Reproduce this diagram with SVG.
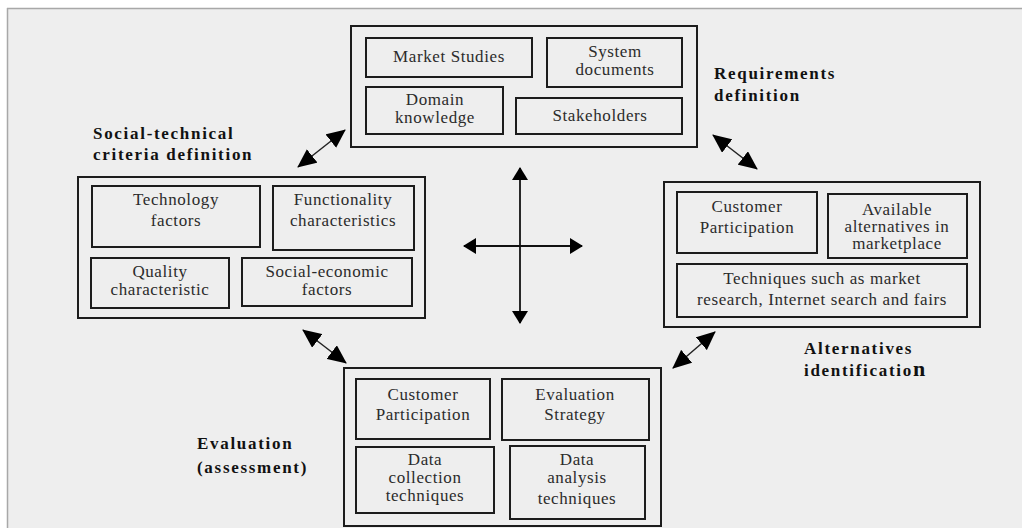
<svg xmlns="http://www.w3.org/2000/svg" width="1022" height="528" viewBox="0 0 1022 528">
  <style>
    .frame { fill: none; stroke: #1c1c1c; stroke-width: 2; }
    .box { fill: none; stroke: #1c1c1c; stroke-width: 2; }
    .t { font-family: "Liberation Serif", "Times New Roman", serif; font-size: 17px; fill: #2b2b2b; text-anchor: middle; letter-spacing: 0.6px; }
    .lbl { font-family: "Liberation Serif", "Times New Roman", serif; font-size: 17px; font-weight: bold; fill: #111; letter-spacing: 1.7px; }
    .link { stroke: #222; stroke-width: 1.5; fill: none; }
    .axis { stroke: #111; stroke-width: 1.8; fill: none; }
  </style>
  <defs>
    <marker id="headBig" viewBox="0 0 19 17" refX="18" refY="8.5" markerWidth="19" markerHeight="17" markerUnits="userSpaceOnUse" orient="auto-start-reverse">
      <path d="M0,0 L19,8.5 L0,17 z" fill="#000"/>
    </marker>
    <marker id="headSmall" viewBox="0 0 13 16" refX="12" refY="8" markerWidth="13" markerHeight="16" markerUnits="userSpaceOnUse" orient="auto-start-reverse">
      <path d="M0,0 L13,8 L0,16 z" fill="#000"/>
    </marker>
  </defs>

  <!-- page backdrop -->
  <rect x="0" y="0" width="1022" height="528" fill="#ffffff"/>
  <rect x="7" y="8" width="1015" height="520" fill="#eeeeee"/>
  <path d="M7,8.5 H1022 M7.5,8 V528" stroke="#a8a8a8" stroke-width="1.5" fill="none"/>

  <!-- Requirements definition -->
  <g id="requirements">
    <rect class="frame" x="351" y="26" width="346" height="121"/>
    <g id="req-market">
      <rect class="box" x="366" y="38" width="166" height="39"/>
      <text class="t" x="449" y="62">Market Studies</text>
    </g>
    <g id="req-system">
      <rect class="box" x="547" y="38" width="135" height="49"/>
      <text class="t" x="615" y="57">System</text>
      <text class="t" x="615" y="75">documents</text>
    </g>
    <g id="req-domain">
      <rect class="box" x="366" y="87" width="137" height="47"/>
      <text class="t" x="435" y="105">Domain</text>
      <text class="t" x="435" y="123">knowledge</text>
    </g>
    <g id="req-stakeholders">
      <rect class="box" x="516" y="98" width="166" height="36"/>
      <text class="t" x="600" y="121">Stakeholders</text>
    </g>
    <text class="lbl" x="714" y="79">Requirements</text>
    <text class="lbl" x="714" y="101">definition</text>
  </g>

  <!-- Social-technical criteria definition -->
  <g id="criteria">
    <rect class="frame" x="78" y="177" width="347" height="141"/>
    <g id="crit-technology">
      <rect class="box" x="92" y="186" width="168" height="61"/>
      <text class="t" x="176" y="205">Technology</text>
      <text class="t" x="176" y="226">factors</text>
    </g>
    <g id="crit-functionality">
      <rect class="box" x="273" y="186" width="141" height="64"/>
      <text class="t" x="343" y="205">Functionality</text>
      <text class="t" x="343" y="226">characteristics</text>
    </g>
    <g id="crit-quality">
      <rect class="box" x="91" y="258" width="138" height="50"/>
      <text class="t" x="160" y="277">Quality</text>
      <text class="t" x="160" y="295">characteristic</text>
    </g>
    <g id="crit-socioeconomic">
      <rect class="box" x="242" y="258" width="170" height="48"/>
      <text class="t" x="327" y="277">Social-economic</text>
      <text class="t" x="327" y="295">factors</text>
    </g>
    <text class="lbl" x="93" y="139">Social-technical</text>
    <text class="lbl" x="93" y="160">criteria definition</text>
  </g>

  <!-- Alternatives identification -->
  <g id="alternatives">
    <rect class="frame" x="664" y="182" width="316" height="145"/>
    <g id="alt-customer">
      <rect class="box" x="677" y="192" width="140" height="61"/>
      <text class="t" x="747" y="212">Customer</text>
      <text class="t" x="747" y="233">Participation</text>
    </g>
    <g id="alt-available">
      <rect class="box" x="828" y="194" width="139" height="64"/>
      <text class="t" x="897" y="215">Available</text>
      <text class="t" x="897" y="232">alternatives in</text>
      <text class="t" x="897" y="249">marketplace</text>
    </g>
    <g id="alt-techniques">
      <rect class="box" x="677" y="264" width="290" height="53"/>
      <text class="t" x="822" y="284">Techniques such as market</text>
      <text class="t" x="822" y="305">research, Internet search and fairs</text>
    </g>
    <text class="lbl" x="804" y="354">Alternatives</text>
    <text class="lbl" x="804" y="376">identificatio<tspan font-size="22" letter-spacing="0">n</tspan></text>
  </g>

  <!-- Evaluation (assessment) -->
  <g id="evaluation">
    <rect class="frame" x="344" y="368" width="317" height="158"/>
    <g id="eval-customer">
      <rect class="box" x="356" y="379" width="134" height="60"/>
      <text class="t" x="423" y="400">Customer</text>
      <text class="t" x="423" y="420">Participation</text>
    </g>
    <g id="eval-strategy">
      <rect class="box" x="502" y="379" width="147" height="61"/>
      <text class="t" x="575" y="400">Evaluation</text>
      <text class="t" x="575" y="420">Strategy</text>
    </g>
    <g id="eval-collection">
      <rect class="box" x="356" y="447" width="138" height="66"/>
      <text class="t" x="425" y="465">Data</text>
      <text class="t" x="425" y="483">collection</text>
      <text class="t" x="425" y="501">techniques</text>
    </g>
    <g id="eval-analysis">
      <rect class="box" x="510" y="446" width="135" height="73"/>
      <text class="t" x="577" y="465">Data</text>
      <text class="t" x="577" y="483">analysis</text>
      <text class="t" x="577" y="504">techniques</text>
    </g>
    <text class="lbl" x="197" y="449">Evaluation</text>
    <text class="lbl" x="197" y="473">(assessment)</text>
  </g>

  <!-- connectors -->
  <g id="connectors">
    <line class="link" x1="298" y1="167" x2="345" y2="130" marker-start="url(#headBig)" marker-end="url(#headBig)"/>
    <line class="link" x1="713" y1="135" x2="757" y2="169" marker-start="url(#headBig)" marker-end="url(#headBig)"/>
    <line class="link" x1="303" y1="330" x2="346" y2="363" marker-start="url(#headBig)" marker-end="url(#headBig)"/>
    <line class="link" x1="715" y1="332" x2="673" y2="368" marker-start="url(#headBig)" marker-end="url(#headBig)"/>
    <line class="axis" x1="520" y1="168" x2="520" y2="323" marker-start="url(#headSmall)" marker-end="url(#headSmall)"/>
    <line class="axis" x1="464" y1="246" x2="582" y2="246" marker-start="url(#headSmall)" marker-end="url(#headSmall)"/>
  </g>
</svg>
